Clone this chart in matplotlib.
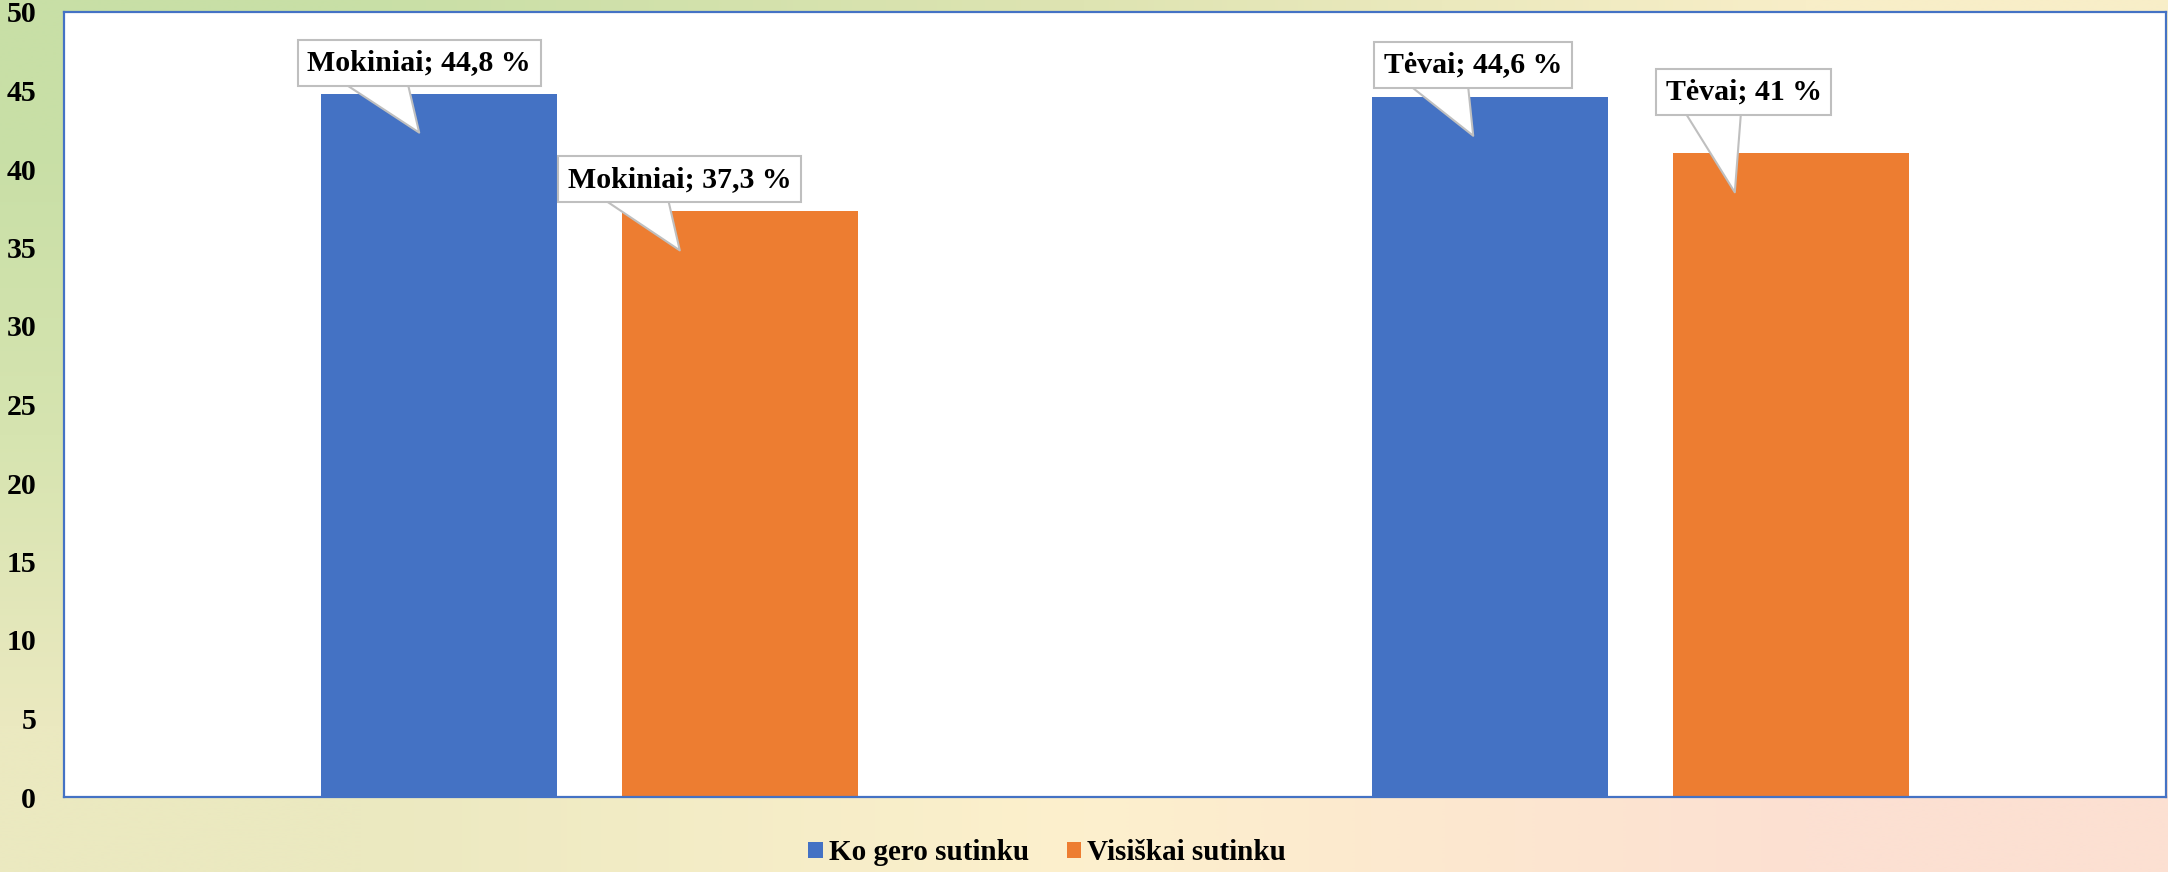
import numpy as np
import matplotlib
matplotlib.use("Agg")
import matplotlib.pyplot as plt
from matplotlib import transforms

# data
groups = ["Mokiniai", "Tėvai"]
series = ["Ko gero sutinku", "Visiškai sutinku"]
ko_gero = [44.8, 44.6]
visiskai = [37.3, 41.0]
label_text = [["Mokiniai; 44,8 %", "Tėvai; 44,6 %"],
              ["Mokiniai; 37,3 %", "Tėvai; 41 %"]]
yticks = list(range(0, 51, 5))

colors = ["#4472c4", "#ed7d31"]
plt.rcParams["font.family"] = ["Liberation Serif", "DejaVu Serif"]
plt.rcParams["font.weight"] = "bold"

fig = plt.figure(figsize=(21.68, 8.72), dpi=100)

# background gradient (green top-left -> yellow -> peach bottom-right)
bg = fig.add_axes([0, 0, 1, 1], zorder=-5)
grad = np.array([
    [(200, 223, 166), (222, 228, 178), (248, 238, 200)],
    [(214, 228, 176), (240, 235, 193), (251, 234, 204)],
    [(235, 233, 192), (253, 240, 205), (252, 224, 210)],
]) / 255.0
bg.imshow(grad, aspect="auto", interpolation="bilinear", extent=[0, 1, 0, 1])
bg.set_axis_off()

ax = fig.add_axes([64 / 2168, 75 / 872, 2102 / 2168, 785 / 872])
ax.set_facecolor("white")

x = np.arange(len(groups))
w = 0.224
off = 0.143
b1 = ax.bar(x - off, ko_gero, w, color=colors[0], label=series[0])
b2 = ax.bar(x + off, visiskai, w, color=colors[1], label=series[1])

ax.set_xlim(-0.5, 1.5)
ax.set_ylim(0, 50)
ax.set_yticks(yticks)
ax.set_xticks([])
ax.tick_params(axis="y", length=0, pad=20, labelsize=21.5)
for s in ax.spines.values():
    s.set_color("#4472c4")
    s.set_linewidth(1.6)

# callouts: white box + wedge pointing into the bar
tip_dx = [[-20, -17], [-60, -56]]
txt_off = [[(0, 70), (0, 71)], [(0, 71), (9, 100)]]
for si, bars in enumerate([b1, b2]):
    for gi, bar in enumerate(bars):
        bx = bar.get_x() + bar.get_width() / 2
        by = bar.get_height()
        tr = transforms.offset_copy(ax.transData, fig, x=tip_dx[si][gi], y=-39, units="dots")
        ax.annotate(label_text[si][gi], xy=(bx, by), xycoords=tr,
                    xytext=txt_off[si][gi], textcoords="offset pixels",
                    ha="center", va="center", fontsize=21.5, fontweight="bold",
                    bbox=dict(boxstyle="square,pad=0.32", fc="white", ec="#bfbfbf", lw=1.5),
                    arrowprops=dict(arrowstyle="wedge,tail_width=2.2,shrink_factor=0.5",
                                    fc="white", ec="#bfbfbf", lw=1.5,
                                    relpos=(0.29, 0.4), patchA=None,
                                    shrinkA=0, shrinkB=0),
                    zorder=5)

fig.legend(handles=[b1, b2], labels=series, loc="center", bbox_to_anchor=(0.483, 0.022),
           ncol=2, frameon=False, fontsize=21, handlelength=0.5, handleheight=0.5,
           handletextpad=0.2, columnspacing=1.3)

fig.savefig("out.png", dpi=100)
